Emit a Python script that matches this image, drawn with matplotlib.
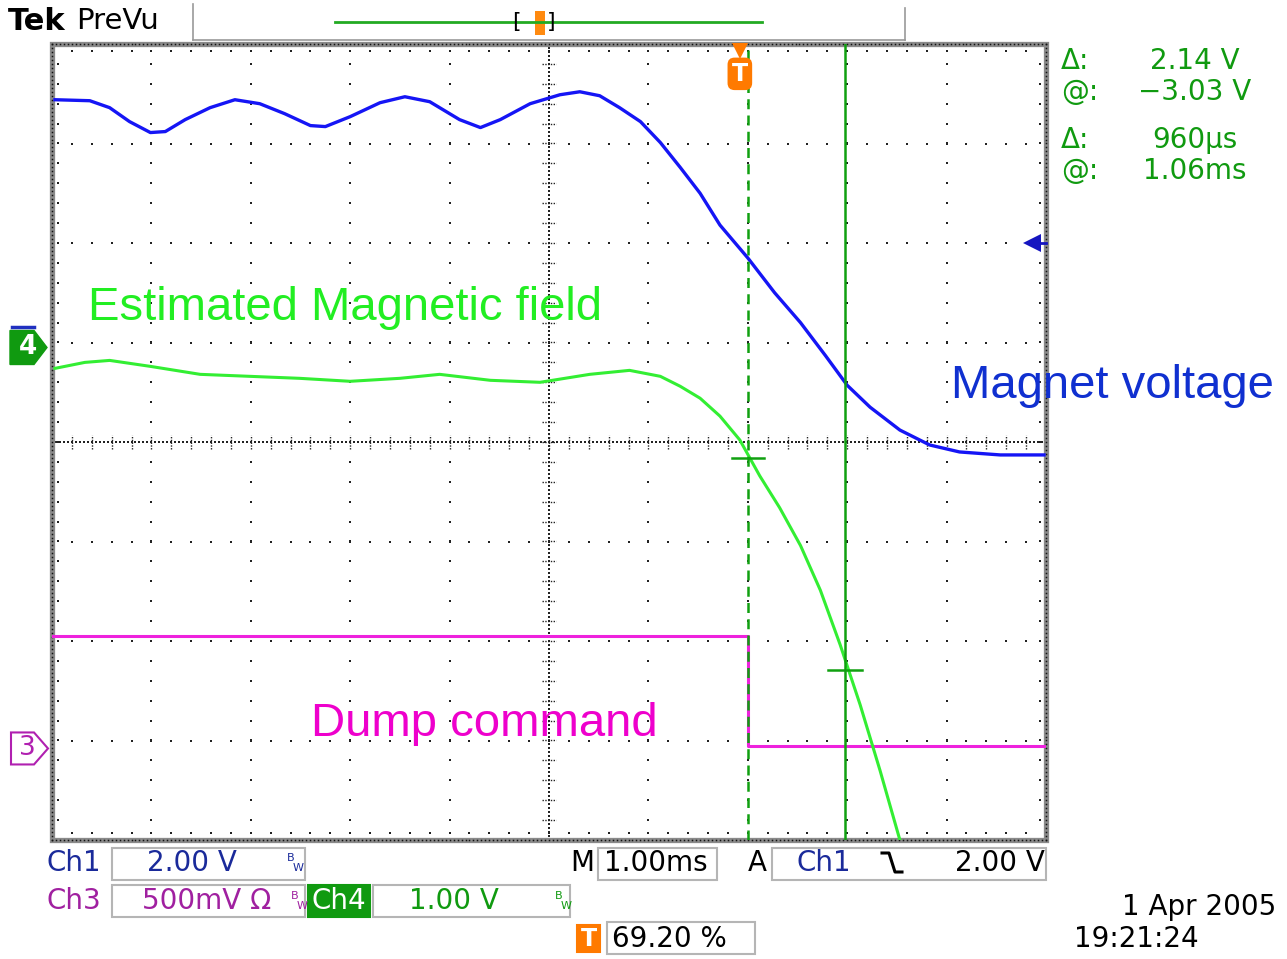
import numpy as np
import matplotlib.pyplot as plt
from matplotlib.patches import Rectangle, Polygon
from matplotlib.lines import Line2D

# trace data, in screen divisions (1 ms/div horizontally)
ch1_t = [0.03, 0.38, 0.58, 0.78, 0.99, 1.14, 1.34, 1.59, 1.84, 2.09, 2.34, 2.60,
         2.75, 3.00, 3.30, 3.55, 3.80, 4.10, 4.31, 4.51, 4.81, 5.11, 5.31, 5.51,
         5.71, 5.92, 6.12, 6.32, 6.52, 6.72, 7.00, 7.27, 7.53, 7.78, 8.00, 8.23,
         8.53, 8.83, 9.13, 9.54, 9.98]
ch1_v = [3.44, 3.43, 3.36, 3.22, 3.11, 3.12, 3.24, 3.36, 3.44, 3.40, 3.30, 3.18,
         3.17, 3.27, 3.41, 3.47, 3.42, 3.24, 3.16, 3.24, 3.40, 3.49, 3.52, 3.48,
         3.36, 3.22, 3.01, 2.76, 2.50, 2.18, 1.85, 1.50, 1.20, 0.87, 0.57, 0.35,
         0.12, -0.03, -0.10, -0.13, -0.13]

ch4_t = [0.03, 0.33, 0.58, 0.99, 1.49, 1.99, 2.49, 3.00, 3.50, 3.90, 4.41, 4.91,
         5.41, 5.81, 6.12, 6.32, 6.52, 6.72, 6.92, 7.12, 7.32, 7.53, 7.73, 7.93,
         8.13, 8.33, 8.53, 8.58]
ch4_v = [0.74, 0.80, 0.82, 0.76, 0.68, 0.66, 0.64, 0.61, 0.64, 0.68, 0.62, 0.60,
         0.68, 0.72, 0.66, 0.56, 0.44, 0.26, 0.02, -0.34, -0.66, -1.04, -1.49, -2.04,
         -2.64, -3.30, -4.00, -4.15]

ch3_t = [0.0, 7.0, 7.0, 10.0]
ch3_v = [-1.95, -1.95, -3.06, -3.06]

cursor_a = 7.0
cursor_b = 7.98
cross_a = -0.16
cross_b = -2.29
trig_pos = 69.20          # percent of record
trig_level = 2.0          # divisions
ch4_ref = 0.95
ch3_ref = -3.08

W, H = 1287, 959
fig = plt.figure(figsize=(12.87, 9.59), dpi=100)
fig.patch.set_facecolor('white')


def fx(px):
    return px / W


def fy(py):
    return 1 - py / H


def fline(xs, ys, **kw):
    fig.lines.append(Line2D([fx(v) for v in xs], [fy(v) for v in ys],
                            transform=fig.transFigure, **kw))


ax = fig.add_axes([fx(52), fy(840), fx(1046) - fx(52), fy(44) - fy(840)])
ax.set_xlim(0, 10)
ax.set_ylim(-4, 4)
ax.axis('off')

# graticule
dot = dict(ls='none', marker='s', ms=1.5, mew=0, color='#222222', clip_on=False)
minor_x = np.arange(0, 10.001, 0.2)
minor_y = np.arange(-4, 4.001, 0.2)
for i in range(1, 10):
    if i != 5:
        ax.plot(np.full_like(minor_y, i), minor_y, **dot)
for j in range(-3, 4):
    if j != 0:
        ax.plot(minor_x, np.full_like(minor_x, j), **dot)
dense_x = np.arange(0, 10.001, 0.04)
dense_y = np.arange(-4, 4.001, 0.04)
ax.plot(dense_x, np.zeros_like(dense_x), **dot)
ax.plot(np.full_like(dense_y, 5), dense_y, **dot)
for t in minor_x:
    ax.plot([t, t], [-0.07, 0.07], color='#222222', lw=1.0, ls=(0, (1, 1)))
for t in minor_y:
    ax.plot([4.93, 5.07], [t, t], color='#222222', lw=1.0, ls=(0, (1, 1)))
# edge tick dots
ax.plot(minor_x, np.full_like(minor_x, 3.93), **dot)
ax.plot(minor_x, np.full_like(minor_x, -3.93), **dot)
ax.plot(np.full_like(minor_y, 0.06), minor_y, **dot)
ax.plot(np.full_like(minor_y, 9.94), minor_y, **dot)

# frame
ax.add_patch(Rectangle((0, 0), 1, 1, transform=ax.transAxes, fill=False,
                       ec='#8a8a8a', lw=3.8, clip_on=False, zorder=3))
fdot = dict(ls='none', marker='s', ms=1.1, mew=0, color='#111111', clip_on=False, zorder=4)
ax.plot(dense_x, np.full_like(dense_x, 4.0), **fdot)
ax.plot(dense_x, np.full_like(dense_x, -4.0), **fdot)
ax.plot(np.zeros_like(dense_y), dense_y, **fdot)
ax.plot(np.full_like(dense_y, 10.0), dense_y, **fdot)

# traces
ax.plot(ch3_t, ch3_v, color='#ee22dd', lw=2.2, zorder=5)
ax.plot(ch4_t, ch4_v, color='#33ee33', lw=2.2, zorder=5)
ax.plot(ch1_t, ch1_v, color='#1515f5', lw=2.4, zorder=5)

# cursors
ax.axvline(cursor_a, color='#10a010', lw=1.8, ls=(0, (4, 2.5)), zorder=6)
ax.axvline(cursor_b, color='#10a010', lw=1.8, zorder=6)
ax.plot([cursor_a - 0.16, cursor_a + 0.16], [cross_a, cross_a], color='#10a010', lw=1.8, zorder=6)
ax.plot([cursor_b - 0.17, cursor_b + 0.17], [cross_b, cross_b], color='#10a010', lw=1.8, zorder=6)

# trigger markers
tx = trig_pos / 10
ax.plot([tx], [3.93], marker='v', ms=11, color='#ff7a00', mew=0, clip_on=False, zorder=7)
ax.text(tx, 3.7, 'T', color='white', fontsize=17, fontweight='bold', ha='center', va='center',
        bbox=dict(boxstyle='round,pad=0.18,rounding_size=0.3', fc='#ff7a00', ec='none'), zorder=7)
ax.plot([9.86, 10.0], [trig_level, trig_level], color='#1515c0', lw=2, clip_on=False, zorder=7)
ax.plot([9.86], [trig_level], marker='<', ms=13, color='#1515c0', mew=0, clip_on=False, zorder=7)

# channel reference markers (left)
yp4 = (1 - (ch4_ref + 4) / 8) * (840 - 44) + 44
fig.patches.append(Polygon([(fx(10), fy(yp4 - 17)), (fx(34), fy(yp4 - 17)), (fx(47), fy(yp4)),
                            (fx(34), fy(yp4 + 17)), (fx(10), fy(yp4 + 17))],
                           closed=True, fc='#109a10', ec='#109a10', transform=fig.transFigure))
fline([12, 34], [yp4 - 20, yp4 - 20], color='#2030c0', lw=2.5)
fig.text(fx(28), fy(yp4), '4', color='white', fontsize=19, fontweight='bold', ha='center', va='center')
yp3 = (1 - (ch3_ref + 4) / 8) * (840 - 44) + 44
fig.patches.append(Polygon([(fx(11), fy(yp3 - 16)), (fx(34), fy(yp3 - 16)), (fx(48), fy(yp3)),
                            (fx(34), fy(yp3 + 16)), (fx(11), fy(yp3 + 16))],
                           closed=True, fc='white', ec='#b020b0', lw=1.5, transform=fig.transFigure))
fig.text(fx(27), fy(yp3), '3', color='#b020b0', fontsize=19, ha='center', va='center')

# annotations
ann = dict(family=['Liberation Sans', 'DejaVu Sans'], fontsize=34, va='baseline')
fig.text(fx(88), fy(320), 'Estimated Magnetic field', color='#22ee22', **ann)
fig.text(fx(951), fy(398), 'Magnet voltage', color='#1030d0', **ann)
fig.text(fx(311), fy(736), 'Dump command', color='#ee00cc', **ann)

# top bar
fig.text(fx(8), fy(22), 'Tek', fontsize=22, fontweight='bold', color='black', va='center')
fig.text(fx(76), fy(21), 'PreVu', fontsize=21, color='black', va='center')
fline([193, 193], [4, 40], color='#999999', lw=1.2)
fline([193, 905], [40, 40], color='#999999', lw=1.2)
fline([905, 905], [8, 40], color='#999999', lw=1.2)
fline([335, 762], [22, 22], color='#22aa22', lw=2)
fig.patches.append(Rectangle((fx(535), fy(35)), fx(10), 24 / H, fc='#ff8a10', ec='none',
                             transform=fig.transFigure))
fig.text(fx(512), fy(22), '[', fontsize=16, color='black', va='center')
fig.text(fx(547), fy(22), ']', fontsize=16, color='black', va='center')

# cursor readouts
ro = dict(fontsize=20, color='#109a10', va='center')
for yy, lab, val in [(61, 'Δ:', '2.14 V'), (92, '@:', '−3.03 V'),
                     (140, 'Δ:', '960µs'), (171, '@:', '1.06ms')]:
    fig.text(fx(1061), fy(yy), lab, **ro)
    fig.text(fx(1195), fy(yy), val, ha='center', **ro)


# bottom status area
def box(x0, y0, x1, y1, fc='white', ec='#b5b5b5'):
    fig.patches.append(Rectangle((fx(x0), fy(y1)), fx(x1 - x0), (y1 - y0) / H,
                                 fc=fc, ec=ec, lw=1.5, transform=fig.transFigure))


def bw(x, y, c):
    fig.text(fx(x), fy(y - 5), 'B', fontsize=8, color=c, va='center')
    fig.text(fx(x + 6), fy(y + 5), 'W', fontsize=8, color=c, va='center')


st = dict(fontsize=20, va='center')
blue, mag, grn = '#1a2a9a', '#a020a0', '#109a10'
box(112, 848, 305, 880)
box(598, 848, 717, 880)
box(772, 848, 1046, 880)
box(112, 885, 305, 917)
box(308, 885, 370, 917, fc='#109a10', ec='#109a10')
box(373, 885, 570, 917)
box(577, 925, 600, 952, fc='#ff7a00', ec='#ff7a00')
box(607, 922, 755, 954)

fig.text(fx(47), fy(863), 'Ch1', color=blue, **st)
fig.text(fx(147), fy(863), '2.00 V', color=blue, **st)
bw(287, 863, blue)
fig.text(fx(570), fy(863), 'M', color='black', **st)
fig.text(fx(604), fy(863), '1.00ms', color='black', **st)
fig.text(fx(748), fy(863), 'A', color='black', **st)
fig.text(fx(796), fy(863), 'Ch1', color=blue, **st)
fline([882, 889, 895, 902], [853, 853, 872, 872], color='black', lw=2.2)
fig.text(fx(1045), fy(863), '2.00 V', color='black', ha='right', **st)

fig.text(fx(47), fy(901), 'Ch3', color=mag, **st)
fig.text(fx(142), fy(901), '500mV Ω', color=mag, **st)
bw(291, 901, mag)
fig.text(fx(339), fy(901), 'Ch4', color='white', ha='center', **st)
fig.text(fx(409), fy(901), '1.00 V', color=grn, **st)
bw(555, 901, grn)

fig.text(fx(588.5), fy(939), 'T', color='white', fontsize=17, fontweight='bold', ha='center', va='center')
fig.text(fx(612), fy(939), '69.20 %', color='black', **st)

fig.text(fx(1276), fy(907), '1 Apr 2005', color='black', ha='right', **st)
fig.text(fx(1074), fy(939), '19:21:24', color='black', **st)

fig.savefig('out.png', dpi=100, facecolor='white')
